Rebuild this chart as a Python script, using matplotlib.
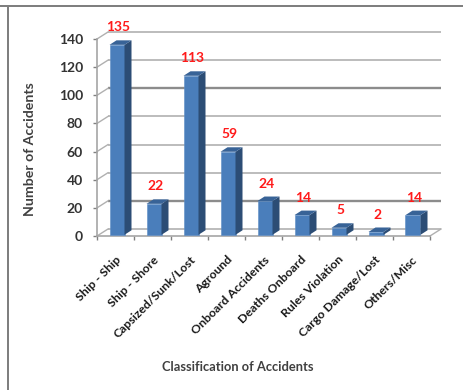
import matplotlib
matplotlib.use('Agg')
import matplotlib.pyplot as plt
from matplotlib.patches import Polygon, Rectangle

categories = ['Ship - Ship', 'Ship - Shore', 'Capsized/Sunk/Lost', 'Aground',
              'Onboard Accidents', 'Deaths Onboard', 'Rules Violation',
              'Cargo Damage/Lost', 'Others/Misc']
accidents = [135, 22, 113, 59, 24, 14, 5, 2, 14]
y_ticks = [0, 20, 40, 60, 80, 100, 120, 140]
heavy_grid = [20, 100]

W, H = 463, 390
plt.rcParams['font.family'] = ['Lato', 'DejaVu Sans']

fig = plt.figure(figsize=(W / 100, H / 100), dpi=100)
# front plane of the 3d box, in pixels
left, right, top, bottom = 97, 430, 39, 236
ax = fig.add_axes([left / W, 1 - bottom / H, (right - left) / W, (bottom - top) / H])
ax.set_xlim(0, 9)
ax.set_ylim(0, 140)

px_x = 9 / (right - left)
px_y = 140 / (bottom - top)
wall_dx, wall_dy = 11 * px_x, 7 * px_y
depth_x, depth_y = 7 * px_x, 4.5 * px_y
bar_w = 15 * px_x
base = 1.2 * px_y

# back wall gridlines and their slanted part on the side wall
for v in y_ticks:
    lw, col = (1.7, '#8c8c8c') if v in heavy_grid else (1.2, '#b0b0b0')
    ax.plot([wall_dx, 9 + wall_dx], [v + wall_dy] * 2, color=col, lw=lw,
            clip_on=False, zorder=1, solid_capstyle='butt')
    ax.plot([0, wall_dx], [v, v + wall_dy], color='#b0b0b0', lw=1.0,
            clip_on=False, zorder=1)
ax.plot([9, 9 + wall_dx], [0, wall_dy], color='#b0b0b0', lw=1.0, clip_on=False, zorder=1)

centers = [i + 0.5 + 1.5 * px_x for i in range(len(accidents))]
ax.bar(centers, accidents, width=bar_w, bottom=base, color='#4a7ebb',
       edgecolor='#5c8dc6', linewidth=0.4, zorder=3)

for c, v in zip(centers, accidents):
    x0, x1 = c - bar_w / 2, c + bar_w / 2
    y1 = v + base
    ax.add_patch(Polygon([(x1, base), (x1 + depth_x, base + depth_y),
                          (x1 + depth_x, y1 + depth_y), (x1, y1)],
                         facecolor='#2c4d75', edgecolor='none', zorder=3, clip_on=False))
    ax.add_patch(Polygon([(x0, y1), (x1, y1), (x1 + depth_x, y1 + depth_y),
                          (x0 + depth_x, y1 + depth_y)],
                         facecolor='#386397', edgecolor='none', zorder=3, clip_on=False))
    ax.annotate(str(v), (c + 1.5 * px_x, y1), xytext=(0, 12.5), textcoords='offset points',
                ha='center', va='center', color='#ff1a1a', fontsize=10,
                fontweight='bold', zorder=5, annotation_clip=False)

for s in ['top', 'right']:
    ax.spines[s].set_visible(False)
for s in ['left', 'bottom']:
    ax.spines[s].set_color('#a6a6a6')
    ax.spines[s].set_linewidth(1.2)
ax.patch.set_alpha(0)

ax.set_yticks(y_ticks)
ax.set_yticklabels([str(v) for v in y_ticks], fontsize=10, fontweight='bold', color='#333333')
ax.set_xticks(range(len(categories) + 1))
ax.set_xticklabels([])
ax.set_xticks([i + 0.5 for i in range(len(categories))], minor=True)
ax.set_xticklabels(categories, minor=True, rotation=45, ha='right', rotation_mode='anchor',
                   fontsize=8.8, fontweight='bold', color='#1a1a1a')
ax.tick_params(axis='x', which='major', length=3, color='#808080', width=1)
ax.tick_params(axis='x', which='minor', length=0, pad=13)
ax.tick_params(axis='y', length=3, color='#808080', width=1, pad=7)

fig.text(30 / W, 1 - 149 / H, 'Number of Accidents', rotation=90, ha='center', va='center',
         fontsize=10.2, fontweight='bold', color='#404040')
fig.text(238 / W, 1 - 367 / H, 'Classification of Accidents', ha='center', va='center',
         fontsize=9.3, fontweight='bold', color='#404040')

# outer frame: only the top and left edges are visible
fig.add_artist(Rectangle((0, 1 - 7 / H), 1, 2 / H, transform=fig.transFigure,
                         facecolor='#7f7f7f', edgecolor='none'))
fig.add_artist(Rectangle((7 / W, 0), 2 / W, 1 - 5 / H, transform=fig.transFigure,
                         facecolor='#7f7f7f', edgecolor='none'))

fig.savefig('out.png', dpi=100)
